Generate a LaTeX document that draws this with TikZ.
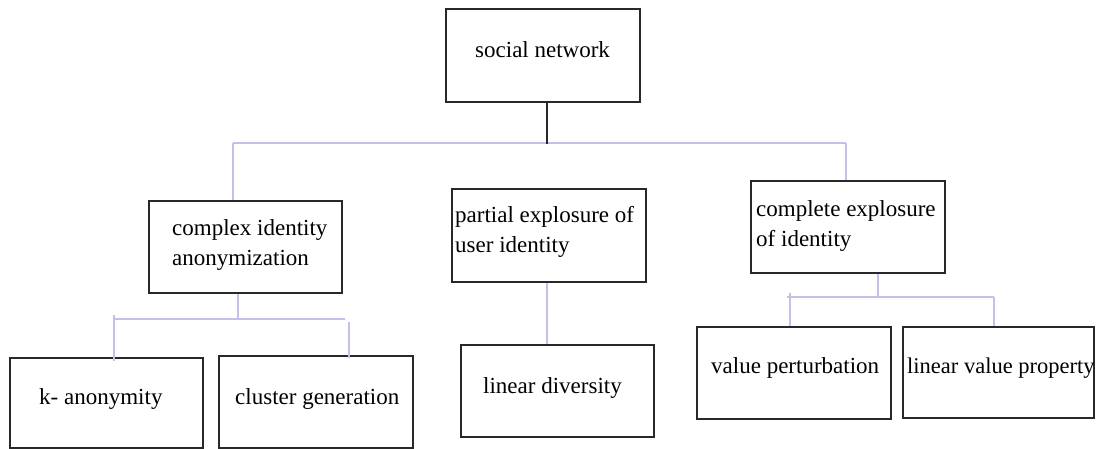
\documentclass[tikz,border=0pt]{standalone}
\usepackage{fontspec}
\setmainfont{Liberation Serif}
\definecolor{lav}{RGB}{196,192,232}
\definecolor{boxgray}{RGB}{40,40,40}
\begin{document}
\begin{tikzpicture}[x=1pt,y=-1pt,
  box/.style={draw=boxgray, line width=1.6pt, inner sep=0pt, minimum width=194pt, minimum height=92pt},
  lbl/.style={inner sep=0pt, font=\fontsize{23}{30}\selectfont, text=black},
  mlbl/.style={lbl, align=left, anchor=north west},
  lavline/.style={draw=lav, line width=1.3pt},
  darkline/.style={draw=boxgray, line width=1.6pt}]
\useasboundingbox (0,0) rectangle (1097,449);
\clip (0,0) rectangle (1097,449);
% boxes
\node[box, minimum height=93pt] (root) at (543,55.5) {};
\node[box, minimum width=193pt] (complex) at (245.5,247) {};
\node[box, minimum height=93pt] (partial) at (549,235.5) {};
\node[box] (complete) at (848,227) {};
\node[box, minimum width=193pt, minimum height=90pt] (kanon) at (106.5,403) {};
\node[box] (cluster) at (316,402) {};
\node[box, minimum width=193pt] (lindiv) at (557.5,391) {};
\node[box] (valpert) at (794,373) {};
\node[box, minimum width=191pt, minimum height=91pt] (linval) at (998.5,372.5) {};
% texts
\node[lbl, anchor=base west] (troot) at (475,58) {social network};
\node[mlbl] (tcomplex) at (172,219) {complex identity\\anonymization};
\node[mlbl] (tpartial) at (455,206) {partial explosure of\\user identity};
\node[mlbl] (tcomplete) at (756,200) {complete explosure\\of identity};
\node[lbl, anchor=base west] (tkanon) at (39,404) {k- anonymity};
\node[lbl, anchor=base west] (tcluster) at (235,404) {cluster generation};
\node[lbl, anchor=base west] (tlindiv) at (483,393) {linear diversity};
\node[lbl, anchor=base west] (tvalpert) at (711,373) {value perturbation};
\node[lbl, anchor=base west, font=\fontsize{22.5}{30}\selectfont] (tlinval) at (907,373) {linear value property};
% junctions
\coordinate (j0) at (547,144);
\coordinate (hl) at (233,143);
\coordinate (hr) at (846,143);
\coordinate (c1) at (238,319);
\coordinate (cl) at (114,319);
\coordinate (cltop) at (114,315);
\coordinate (cr) at (345,319);
\coordinate (crx) at (349,322);
\coordinate (p1) at (547,300);
\coordinate (e1) at (878,297);
\coordinate (el) at (787,297);
\coordinate (eltop) at (790,293);
\coordinate (er) at (994,297);
% connectors
\draw[lavline] (hl) -- (hr);
\draw[lavline] (hl) -- (complex.north -| hl);
\draw[lavline] (hr) -- (complete.north -| hr);
\draw[darkline] (root.south -| j0) -- (j0);
\draw[lavline] (complex.south -| c1) -- (c1);
\draw[lavline] (cl) -- (cr);
\draw[lavline] (cltop) -- ([yshift=-4pt]kanon.north -| cltop);
\draw[lavline] (crx) -- ([yshift=-3pt]cluster.north -| crx);
\draw[lavline] (partial.south -| p1) -- (lindiv.north -| p1);
\draw[lavline] (complete.south -| e1) -- (e1);
\draw[lavline] (el) -- (er);
\draw[lavline] (eltop) -- (valpert.north -| eltop);
\draw[lavline] (er) -- (linval.north -| er);
\end{tikzpicture}
\end{document}
